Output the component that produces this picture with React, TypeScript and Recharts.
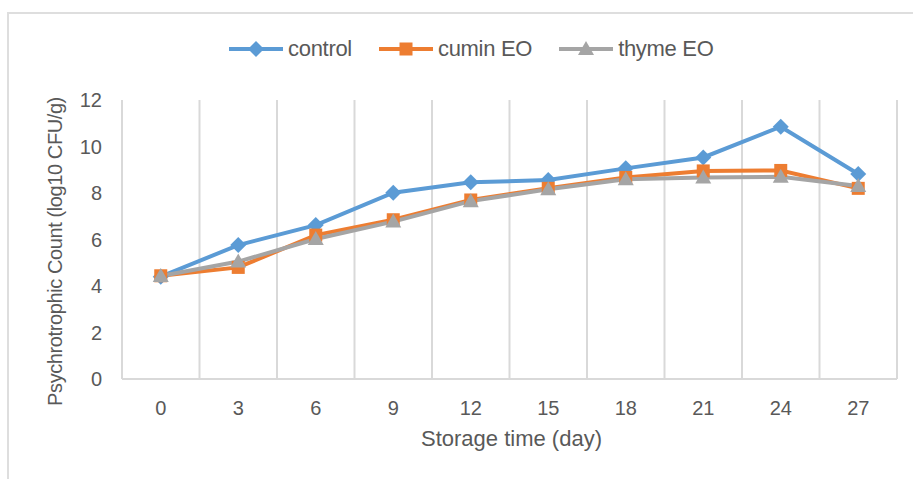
import React from 'react';
import { LineChart, Line, XAxis, YAxis, CartesianGrid, Legend, Label } from 'recharts';

const days = [0, 3, 6, 9, 12, 15, 18, 21, 24, 27];
const control = [4.4, 5.76, 6.62, 8.01, 8.46, 8.56, 9.06, 9.53, 10.85, 8.82];
const cumin = [4.44, 4.8, 6.19, 6.85, 7.7, 8.2, 8.67, 8.95, 8.97, 8.2];
const thyme = [4.43, 5.05, 6.02, 6.77, 7.65, 8.16, 8.59, 8.67, 8.7, 8.3];
const yTicks = [0, 2, 4, 6, 8, 10, 12];
const seriesNames = ['control', 'cumin EO', 'thyme EO'];
const seriesColors = ['#5B9BD5', '#ED7D31', '#A5A5A5'];
const seriesShapes = ['diamond', 'square', 'triangle'];

const halfStep = 1.5;
const gridBounds = days.map((d) => d + halfStep);
const xDomain = [days[0] - halfStep, days[days.length - 1] + halfStep];

const data = days.map((d, i) => ({
  day: d,
  control: control[i],
  cumin: cumin[i],
  thyme: thyme[i],
}));

const FONT = '"Liberation Sans", Arial, sans-serif';
const TEXT = '#595959';

function Marker({ shape, cx, cy, color }: { shape: string; cx: number; cy: number; color: string }) {
  if (shape === 'diamond') {
    const r = 8;
    return <path d={`M${cx},${cy - r}L${cx + r},${cy}L${cx},${cy + r}L${cx - r},${cy}Z`} fill={color} />;
  }
  if (shape === 'square') {
    const h = 6.5;
    return <rect x={cx - h} y={cy - h} width={h * 2} height={h * 2} fill={color} />;
  }
  const s = 8;
  return <path d={`M${cx},${cy - s}L${cx + s},${cy + s * 0.75}L${cx - s},${cy + s * 0.75}Z`} fill={color} />;
}

const makeDot = (idx: number) => (props: any) => {
  const { cx, cy, index } = props;
  if (cx == null || cy == null) return <g key={index} />;
  return (
    <g key={`${idx}-${index}`}>
      <Marker shape={seriesShapes[idx]} cx={cx} cy={cy} color={seriesColors[idx]} />
    </g>
  );
};

const renderLegend = (props: any) => {
  const payload = props.payload || [];
  return (
    <div style={{ display: 'flex', alignItems: 'center', fontFamily: FONT, fontSize: 22, color: TEXT }}>
      {payload.map((p: any, i: number) => (
        <div key={i} style={{ display: 'flex', alignItems: 'center', marginRight: i < payload.length - 1 ? 27 : 0 }}>
          <svg width={54} height={20} style={{ marginRight: 5 }}>
            <line x1={0} y1={10} x2={54} y2={10} stroke={p.color} strokeWidth={4} />
            <Marker shape={seriesShapes[i]} cx={27} cy={10} color={p.color} />
          </svg>
          <span style={{ letterSpacing: -0.3 }}>{p.value}</span>
        </div>
      ))}
    </div>
  );
};

const yTitle = (props: any) => {
  const vb = props.viewBox;
  const x = vb.x + 55;
  const y = vb.y + vb.height / 2 + 12;
  return (
    <text
      x={x}
      y={y}
      transform={`rotate(-90 ${x} ${y})`}
      textAnchor="middle"
      dominantBaseline="central"
      fill={TEXT}
      style={{ fontFamily: FONT, fontSize: 20, letterSpacing: -0.4 }}
    >
      Psychrotrophic Count (log10 CFU/g)
    </text>
  );
};

const xTitle = (props: any) => {
  const vb = props.viewBox;
  const x = vb.x + vb.width / 2 + 2;
  const y = vb.y + 67;
  return (
    <text x={x} y={y} textAnchor="middle" fill={TEXT} style={{ fontFamily: FONT, fontSize: 22 }}>
      Storage time (day)
    </text>
  );
};

export default function App() {
  return (
    <div
      style={{
        position: 'absolute',
        left: 0,
        top: 0,
        width: 913,
        height: 479,
        overflow: 'hidden',
        background: '#fff',
        fontFamily: FONT,
      }}
    >
      <div
        style={{
          position: 'absolute',
          left: 7,
          top: 12,
          width: 1200,
          height: 800,
          borderTop: '2px solid #dedede',
          borderLeft: '2px solid #dedede',
        }}
      />
      <div style={{ position: 'absolute', left: 0, top: 0 }}>
        <LineChart width={913} height={479} data={data} margin={{ top: 100, right: 16, bottom: 0, left: 0 }}>
          <XAxis xAxisId="grid" type="number" dataKey="day" domain={xDomain} ticks={gridBounds} hide />
          <CartesianGrid xAxisId="grid" horizontal={false} stroke="#d9d9d9" strokeWidth={2} />
          <XAxis
            type="number"
            dataKey="day"
            domain={xDomain}
            ticks={days}
            interval={0}
            height={100}
            axisLine={{ stroke: '#d9d9d9', strokeWidth: 2 }}
            tickLine={false}
            tickMargin={16}
            tick={{ fill: TEXT, fontSize: 20, fontFamily: FONT }}
          >
            <Label content={xTitle} />
          </XAxis>
          <YAxis
            width={122}
            domain={[0, 12]}
            ticks={yTicks}
            interval={0}
            axisLine={{ stroke: '#d9d9d9', strokeWidth: 2 }}
            tickLine={false}
            tickMargin={14}
            tick={{ fill: TEXT, fontSize: 20, fontFamily: FONT }}
          >
            <Label content={yTitle} />
          </YAxis>
          <Legend
            verticalAlign="middle"
            align="center"
            layout="horizontal"
            content={renderLegend}
            wrapperStyle={{ top: 36, left: 229, width: 520, height: 24 }}
          />
          <Line
            dataKey="control"
            name={seriesNames[0]}
            stroke={seriesColors[0]}
            strokeWidth={4}
            dot={makeDot(0)}
            activeDot={false}
            isAnimationActive={false}
          />
          <Line
            dataKey="cumin"
            name={seriesNames[1]}
            stroke={seriesColors[1]}
            strokeWidth={4}
            dot={makeDot(1)}
            activeDot={false}
            isAnimationActive={false}
          />
          <Line
            dataKey="thyme"
            name={seriesNames[2]}
            stroke={seriesColors[2]}
            strokeWidth={4}
            dot={makeDot(2)}
            activeDot={false}
            isAnimationActive={false}
          />
        </LineChart>
      </div>
    </div>
  );
}
